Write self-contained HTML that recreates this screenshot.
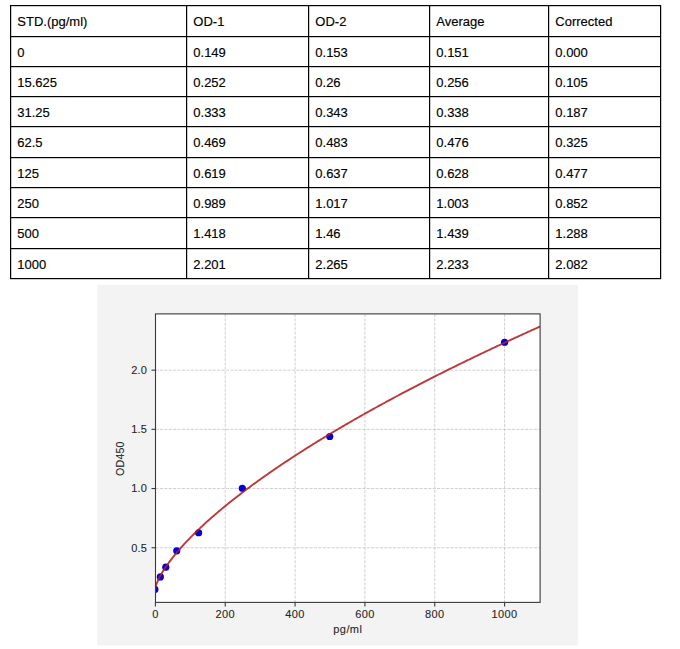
<!DOCTYPE html><html><head><meta charset="utf-8"><style>html,body{margin:0;padding:0;background:#fff;width:680px;height:649px;overflow:hidden}svg{display:block}</style></head><body>
<svg width="680" height="649" viewBox="0 0 680 649">
<rect x="0" y="0" width="680" height="649" fill="#fff"/>
<rect x="10" y="5" width="651" height="1.2" fill="#000"/>
<rect x="10" y="36" width="651" height="1.2" fill="#000"/>
<rect x="10" y="66" width="651" height="1.2" fill="#000"/>
<rect x="10" y="96" width="651" height="1.2" fill="#000"/>
<rect x="10" y="126" width="651" height="1.2" fill="#000"/>
<rect x="10" y="157" width="651" height="1.2" fill="#000"/>
<rect x="10" y="187" width="651" height="1.2" fill="#000"/>
<rect x="10" y="217" width="651" height="1.2" fill="#000"/>
<rect x="10" y="248" width="651" height="1.2" fill="#000"/>
<rect x="10" y="278" width="651" height="1.2" fill="#000"/>
<rect x="10" y="5" width="1.2" height="274" fill="#000"/>
<rect x="186" y="5" width="1.2" height="274" fill="#000"/>
<rect x="308" y="5" width="1.2" height="274" fill="#000"/>
<rect x="429" y="5" width="1.2" height="274" fill="#000"/>
<rect x="548" y="5" width="1.2" height="274" fill="#000"/>
<rect x="660" y="5" width="1.2" height="274" fill="#000"/>
<g font-family="Liberation Sans, sans-serif" font-size="13" fill="#000" stroke="#000" stroke-width="0.15">
<text x="17.3" y="25.7">STD.(pg/ml)</text>
<text x="193.3" y="25.7">OD-1</text>
<text x="315.3" y="25.7">OD-2</text>
<text x="436.3" y="25.7">Average</text>
<text x="555.3" y="25.7">Corrected</text>
<text x="17.3" y="56.7">0</text>
<text x="193.3" y="56.7">0.149</text>
<text x="315.3" y="56.7">0.153</text>
<text x="436.3" y="56.7">0.151</text>
<text x="555.3" y="56.7">0.000</text>
<text x="17.3" y="86.7">15.625</text>
<text x="193.3" y="86.7">0.252</text>
<text x="315.3" y="86.7">0.26</text>
<text x="436.3" y="86.7">0.256</text>
<text x="555.3" y="86.7">0.105</text>
<text x="17.3" y="116.7">31.25</text>
<text x="193.3" y="116.7">0.333</text>
<text x="315.3" y="116.7">0.343</text>
<text x="436.3" y="116.7">0.338</text>
<text x="555.3" y="116.7">0.187</text>
<text x="17.3" y="146.7">62.5</text>
<text x="193.3" y="146.7">0.469</text>
<text x="315.3" y="146.7">0.483</text>
<text x="436.3" y="146.7">0.476</text>
<text x="555.3" y="146.7">0.325</text>
<text x="17.3" y="177.7">125</text>
<text x="193.3" y="177.7">0.619</text>
<text x="315.3" y="177.7">0.637</text>
<text x="436.3" y="177.7">0.628</text>
<text x="555.3" y="177.7">0.477</text>
<text x="17.3" y="207.7">250</text>
<text x="193.3" y="207.7">0.989</text>
<text x="315.3" y="207.7">1.017</text>
<text x="436.3" y="207.7">1.003</text>
<text x="555.3" y="207.7">0.852</text>
<text x="17.3" y="237.7">500</text>
<text x="193.3" y="237.7">1.418</text>
<text x="315.3" y="237.7">1.46</text>
<text x="436.3" y="237.7">1.439</text>
<text x="555.3" y="237.7">1.288</text>
<text x="17.3" y="268.7">1000</text>
<text x="193.3" y="268.7">2.201</text>
<text x="315.3" y="268.7">2.265</text>
<text x="436.3" y="268.7">2.233</text>
<text x="555.3" y="268.7">2.082</text>
</g>
<rect x="97.2" y="284.9" width="480.9" height="360.6" fill="#f3f3f3"/>
<rect x="155.5" y="313.9" width="384.6" height="288.5" fill="#fff"/>
<clipPath id="ac"><rect x="155.5" y="313.9" width="384.6" height="288.5"/></clipPath>
<g clip-path="url(#ac)" stroke="#c4c4c4" stroke-width="0.8" stroke-dasharray="3.1,1.3"><line x1="155.40" y1="313.9" x2="155.40" y2="602.4"/><line x1="225.24" y1="313.9" x2="225.24" y2="602.4"/><line x1="295.08" y1="313.9" x2="295.08" y2="602.4"/><line x1="364.92" y1="313.9" x2="364.92" y2="602.4"/><line x1="434.76" y1="313.9" x2="434.76" y2="602.4"/><line x1="504.60" y1="313.9" x2="504.60" y2="602.4"/><line x1="155.5" y1="547.75" x2="540.1" y2="547.75"/><line x1="155.5" y1="488.55" x2="540.1" y2="488.55"/><line x1="155.5" y1="429.35" x2="540.1" y2="429.35"/><line x1="155.5" y1="370.15" x2="540.1" y2="370.15"/></g>
<g clip-path="url(#ac)">
<circle cx="154.90" cy="589.38" r="3.6" fill="#0000d8"/>
<circle cx="160.36" cy="576.91" r="3.6" fill="#0000d8"/>
<circle cx="165.83" cy="567.18" r="3.6" fill="#0000d8"/>
<circle cx="176.76" cy="550.80" r="3.6" fill="#0000d8"/>
<circle cx="198.61" cy="532.76" r="3.6" fill="#0000d8"/>
<circle cx="242.32" cy="488.24" r="3.6" fill="#0000d8"/>
<circle cx="329.75" cy="436.49" r="3.6" fill="#0000d8"/>
<circle cx="504.60" cy="342.24" r="3.6" fill="#0000d8"/>
<polyline points="154.90,590.01 155.87,585.77 156.83,583.12 157.80,580.85 158.76,578.82 159.73,576.93 160.69,575.15 161.66,573.46 162.62,571.85 163.59,570.29 164.55,568.79 165.52,567.33 166.48,565.92 167.45,564.54 168.42,563.19 169.38,561.87 170.35,560.58 171.31,559.31 172.28,558.06 173.24,556.84 174.21,555.64 175.17,554.45 176.14,553.29 177.10,552.13 178.07,551.00 179.04,549.88 180.00,548.77 180.97,547.68 181.93,546.60 182.90,545.53 183.86,544.47 184.83,543.43 185.79,542.39 186.76,541.37 187.72,540.35 188.69,539.35 189.65,538.35 190.62,537.36 191.59,536.38 192.55,535.41 193.52,534.45 194.48,533.49 195.45,532.54 196.41,531.60 197.38,530.67 198.34,529.74 199.31,528.82 200.27,527.91 201.24,527.00 202.21,526.10 203.17,525.20 204.14,524.31 205.10,523.42 206.07,522.54 207.03,521.67 208.00,520.80 208.96,519.94 209.93,519.08 210.89,518.23 211.86,517.38 212.82,516.53 213.79,515.69 214.76,514.86 215.72,514.03 216.69,513.20 217.65,512.38 218.62,511.56 219.58,510.74 220.55,509.93 221.51,509.13 222.48,508.32 223.44,507.53 224.41,506.73 225.38,505.94 226.34,505.15 227.31,504.37 228.27,503.59 229.24,502.81 230.20,502.03 231.17,501.26 232.13,500.50 233.10,499.73 234.06,498.97 235.03,498.21 235.99,497.46 236.96,496.70 237.93,495.95 238.89,495.21 239.86,494.46 240.82,493.72 241.79,492.98 242.75,492.25 243.72,491.52 244.68,490.79 245.65,490.06 246.61,489.33 247.58,488.61 248.55,487.89 249.51,487.17 250.48,486.46 251.44,485.75 252.41,485.04 253.37,484.33 254.34,483.62 255.30,482.92 256.27,482.22 257.23,481.52 258.20,480.83 259.16,480.13 260.13,479.44 261.10,478.75 262.06,478.06 263.03,477.38 263.99,476.69 264.96,476.01 265.92,475.33 266.89,474.66 267.85,473.98 268.82,473.31 269.78,472.64 270.75,471.97 271.72,471.30 272.68,470.63 273.65,469.97 274.61,469.31 275.58,468.65 276.54,467.99 277.51,467.33 278.47,466.68 279.44,466.02 280.40,465.37 281.37,464.72 282.33,464.07 283.30,463.43 284.27,462.78 285.23,462.14 286.20,461.50 287.16,460.86 288.13,460.22 289.09,459.59 290.06,458.95 291.02,458.32 291.99,457.69 292.95,457.06 293.92,456.43 294.88,455.80 295.85,455.17 296.82,454.55 297.78,453.93 298.75,453.31 299.71,452.69 300.68,452.07 301.64,451.45 302.61,450.84 303.57,450.22 304.54,449.61 305.50,449.00 306.47,448.39 307.44,447.78 308.40,447.17 309.37,446.57 310.33,445.96 311.30,445.36 312.26,444.76 313.23,444.16 314.19,443.56 315.16,442.96 316.12,442.36 317.09,441.77 318.05,441.17 319.02,440.58 319.99,439.99 320.95,439.40 321.92,438.81 322.88,438.22 323.85,437.63 324.81,437.04 325.78,436.46 326.74,435.88 327.71,435.29 328.67,434.71 329.64,434.13 330.61,433.55 331.57,432.98 332.54,432.40 333.50,431.82 334.47,431.25 335.43,430.68 336.40,430.10 337.36,429.53 338.33,428.96 339.29,428.39 340.26,427.83 341.22,427.26 342.19,426.69 343.16,426.13 344.12,425.56 345.09,425.00 346.05,424.44 347.02,423.88 347.98,423.32 348.95,422.76 349.91,422.20 350.88,421.65 351.84,421.09 352.81,420.54 353.78,419.98 354.74,419.43 355.71,418.88 356.67,418.33 357.64,417.78 358.60,417.23 359.57,416.68 360.53,416.13 361.50,415.59 362.46,415.04 363.43,414.50 364.39,413.95 365.36,413.41 366.33,412.87 367.29,412.33 368.26,411.79 369.22,411.25 370.19,410.71 371.15,410.17 372.12,409.64 373.08,409.10 374.05,408.57 375.01,408.03 375.98,407.50 376.95,406.97 377.91,406.44 378.88,405.91 379.84,405.38 380.81,404.85 381.77,404.32 382.74,403.79 383.70,403.27 384.67,402.74 385.63,402.22 386.60,401.69 387.56,401.17 388.53,400.65 389.50,400.13 390.46,399.61 391.43,399.09 392.39,398.57 393.36,398.05 394.32,397.53 395.29,397.01 396.25,396.50 397.22,395.98 398.18,395.47 399.15,394.95 400.12,394.44 401.08,393.93 402.05,393.42 403.01,392.91 403.98,392.40 404.94,391.89 405.91,391.38 406.87,390.87 407.84,390.36 408.80,389.86 409.77,389.35 410.73,388.85 411.70,388.34 412.67,387.84 413.63,387.34 414.60,386.83 415.56,386.33 416.53,385.83 417.49,385.33 418.46,384.83 419.42,384.33 420.39,383.83 421.35,383.34 422.32,382.84 423.28,382.34 424.25,381.85 425.22,381.35 426.18,380.86 427.15,380.37 428.11,379.87 429.08,379.38 430.04,378.89 431.01,378.40 431.97,377.91 432.94,377.42 433.90,376.93 434.87,376.44 435.84,375.95 436.80,375.47 437.77,374.98 438.73,374.50 439.70,374.01 440.66,373.53 441.63,373.04 442.59,372.56 443.56,372.08 444.52,371.59 445.49,371.11 446.45,370.63 447.42,370.15 448.39,369.67 449.35,369.19 450.32,368.71 451.28,368.24 452.25,367.76 453.21,367.28 454.18,366.81 455.14,366.33 456.11,365.86 457.07,365.38 458.04,364.91 459.01,364.43 459.97,363.96 460.94,363.49 461.90,363.02 462.87,362.55 463.83,362.08 464.80,361.61 465.76,361.14 466.73,360.67 467.69,360.20 468.66,359.73 469.62,359.27 470.59,358.80 471.56,358.33 472.52,357.87 473.49,357.40 474.45,356.94 475.42,356.47 476.38,356.01 477.35,355.55 478.31,355.09 479.28,354.62 480.24,354.16 481.21,353.70 482.18,353.24 483.14,352.78 484.11,352.32 485.07,351.87 486.04,351.41 487.00,350.95 487.97,350.49 488.93,350.04 489.90,349.58 490.86,349.12 491.83,348.67 492.79,348.21 493.76,347.76 494.73,347.31 495.69,346.85 496.66,346.40 497.62,345.95 498.59,345.50 499.55,345.05 500.52,344.60 501.48,344.15 502.45,343.70 503.41,343.25 504.38,342.80 505.35,342.35 506.31,341.90 507.28,341.46 508.24,341.01 509.21,340.56 510.17,340.12 511.14,339.67 512.10,339.23 513.07,338.78 514.03,338.34 515.00,337.90 515.96,337.45 516.93,337.01 517.90,336.57 518.86,336.13 519.83,335.69 520.79,335.24 521.76,334.80 522.72,334.36 523.69,333.93 524.65,333.49 525.62,333.05 526.58,332.61 527.55,332.17 528.52,331.74 529.48,331.30 530.45,330.86 531.41,330.43 532.38,329.99 533.34,329.56 534.31,329.12 535.27,328.69 536.24,328.25 537.20,327.82 538.17,327.39 539.13,326.96 540.10,326.52" fill="none" stroke="#b41c1c" stroke-width="1.9" stroke-opacity="0.88"/>
</g>
<rect x="155.5" y="313.9" width="384.6" height="288.5" fill="none" stroke="#3a3a3a" stroke-width="1.1"/>
<g stroke="#3a3a3a" stroke-width="1.1"><line x1="155.40" y1="602.4" x2="155.40" y2="606.40"/><line x1="225.24" y1="602.4" x2="225.24" y2="606.40"/><line x1="295.08" y1="602.4" x2="295.08" y2="606.40"/><line x1="364.92" y1="602.4" x2="364.92" y2="606.40"/><line x1="434.76" y1="602.4" x2="434.76" y2="606.40"/><line x1="504.60" y1="602.4" x2="504.60" y2="606.40"/><line x1="151.50" y1="547.75" x2="155.5" y2="547.75"/><line x1="151.50" y1="488.55" x2="155.5" y2="488.55"/><line x1="151.50" y1="429.35" x2="155.5" y2="429.35"/><line x1="151.50" y1="370.15" x2="155.5" y2="370.15"/></g>
<g font-family="Liberation Sans, sans-serif" font-size="11" fill="#262626" stroke="#262626" stroke-width="0.1" letter-spacing="0.4">
<text x="155.40" y="617.8" text-anchor="middle">0</text>
<text x="225.24" y="617.8" text-anchor="middle">200</text>
<text x="295.08" y="617.8" text-anchor="middle">400</text>
<text x="364.92" y="617.8" text-anchor="middle">600</text>
<text x="434.76" y="617.8" text-anchor="middle">800</text>
<text x="504.60" y="617.8" text-anchor="middle">1000</text>
<text x="147" y="551.55" text-anchor="end" letter-spacing="0.15">0.5</text>
<text x="147" y="492.35" text-anchor="end" letter-spacing="0.15">1.0</text>
<text x="147" y="433.15" text-anchor="end" letter-spacing="0.15">1.5</text>
<text x="147" y="373.95" text-anchor="end" letter-spacing="0.15">2.0</text>
<text x="347.80" y="632.7" text-anchor="middle">pg/ml</text>
<text transform="translate(124.4,458.6) rotate(-90)" text-anchor="middle" font-size="10.6" letter-spacing="0.2">OD450</text>
</g>
</svg></body></html>
